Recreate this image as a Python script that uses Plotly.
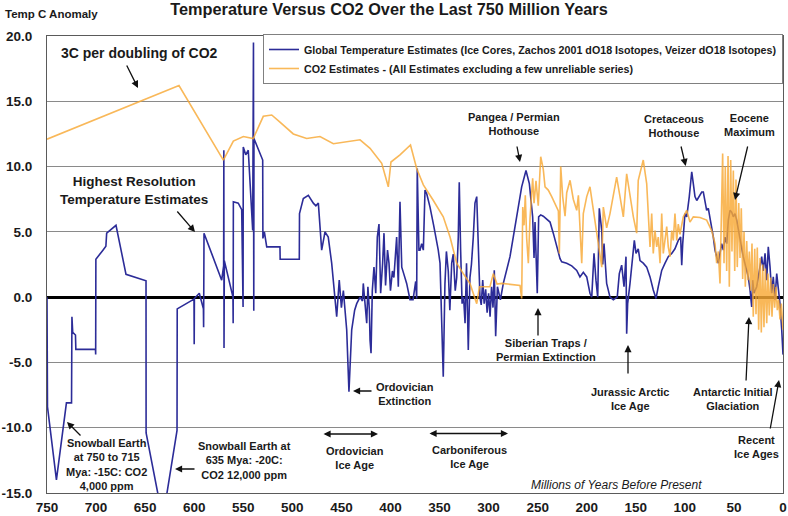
import plotly.graph_objects as go

# ---------------- data ----------------
TEMP_AGE = [
    750.0, 749.5, 740.4, 730.2, 725.0, 724.6, 723.8, 721.0, 720.6, 700.6,
    700.4, 700.2, 693.0, 690.0, 689.2, 679.7, 669.5, 656.0, 649.1, 649.0,
    632.0, 617.5, 617.3, 600.2, 600.0, 599.8, 594.8, 590.6, 590.4, 590.0,
    572.0, 570.0, 569.8, 569.6, 569.3, 560.5, 560.3, 560.1, 555.1, 551.6,
    550.2, 550.0, 547.5, 544.9, 543.8, 540.4, 539.6, 539.3, 539.1, 530.2,
    530.0, 528.5, 526.1, 512.6, 512.4, 492.9, 492.7, 488.8, 483.7, 478.6,
    476.0, 473.5, 470.1, 466.7, 463.4, 459.9, 456.5, 454.8, 452.2, 450.0,
    448.0, 444.6, 442.3, 439.5, 436.5, 434.4, 431.0, 428.5, 427.7, 426.0,
    424.2, 423.0, 421.5, 420.8, 419.8, 418.5, 416.8, 415.0, 413.4, 411.7,
    410.0, 408.0, 406.6, 405.0, 403.0, 401.5, 400.0, 398.0, 396.5, 393.7,
    392.0, 390.3, 388.5, 386.5, 383.5, 380.1, 377.0, 374.3, 373.3, 372.7,
    371.0, 369.9, 368.2, 366.5, 364.8, 363.0, 359.7, 356.0, 352.5, 351.3,
    349.5, 347.8, 346.2, 344.5, 343.0, 341.1, 339.5, 337.6, 336.0, 334.0,
    332.5, 330.9, 329.9, 328.5, 327.0, 325.5, 324.0, 322.5, 320.7, 319.0,
    317.5, 315.6, 313.9, 312.1, 310.5, 308.8, 307.5, 306.0, 304.5, 303.0,
    301.5, 300.0, 298.5, 297.0, 295.5, 294.2, 292.8, 291.0, 288.0, 285.0,
    278.2, 271.4, 266.3, 261.9, 258.5, 255.1, 253.7, 252.7, 251.7, 250.4,
    249.0, 246.9, 244.3, 240.8, 237.4, 234.1, 230.6, 227.2, 225.5, 220.4,
    215.3, 210.2, 206.9, 203.5, 200.0, 196.7, 194.9, 192.6, 190.6, 188.8,
    187.2, 184.7, 183.7, 182.4, 179.7, 176.3, 172.9, 168.9, 166.8, 164.4,
    162.0, 160.0, 159.3, 158.3, 155.9, 153.2, 151.5, 149.8, 147.5, 145.7,
    142.4, 138.9, 135.5, 132.2, 129.4, 127.1, 123.6, 120.2, 116.9, 113.4,
    110.1, 106.7, 104.3, 103.2, 102.2, 99.9, 98.1, 95.5, 93.0, 91.4,
    89.7, 87.9, 85.3, 82.8, 81.2, 79.5, 77.8, 76.1, 74.4, 72.7,
    71.0, 69.3, 67.6, 65.9, 64.2, 62.5, 60.8, 59.1, 57.4, 55.7,
    54.0, 52.3, 50.6, 48.9, 47.2, 45.5, 43.8, 40.5, 37.0, 35.4,
    33.6, 31.9, 30.9, 29.6, 26.8, 25.2, 23.4, 21.7, 20.1, 18.3,
    16.6, 15.0, 13.2, 11.5, 9.9, 8.2, 6.4, 4.8, 3.1, 1.3, 0.0,
]
TEMP_C = [
    0.0, -8.4, -14.0, -8.1, -8.1, -1.5, -2.7, -2.9, -4.0, -4.0,
    -4.4, 2.9, 3.6, 3.9, 4.9, 5.5, 1.75, 1.4, 1.25, -10.4,
    -17.0, -10.2, -0.9, -0.15, -3.6, -0.1, 0.3, -0.9, -2.3, 4.9,
    1.3, 2.4, 11.25, -3.9, 2.8, 0.0, -2.0, 7.3, 7.2, 6.7,
    -0.75, 11.5, 10.9, 11.25, 9.5, 5.1, 19.5, -1.05, 12.15, 10.5,
    4.5, 5.0, 3.85, 3.85, 2.9, 2.9, 6.4, 7.55, 7.8, 7.2,
    7.0, 7.2, 3.6, 5.0, 4.6, 2.6, 0.0, -1.5, 1.3, -0.8,
    0.5, -2.5, -7.25, -2.5, -1.0, -0.5, 0.0, -0.3, 1.05, -0.5,
    -2.0, 0.8, -1.0, -3.3, -4.3, 0.5, 2.3, 0.3, 4.6, 5.6,
    0.3, 2.6, 4.9, 0.9, 3.6, 2.6, 0.5, 2.0, 1.5, 4.6,
    0.8, 7.3, 2.3, 1.8, 1.05, -0.2, -0.2, 1.2, -0.1, 9.85,
    3.6, 3.6, 4.1, 3.6, 8.2, 7.9, 6.9, 5.5, 4.2, 3.6,
    2.6, -2.0, -6.1, 1.0, 3.5, 2.0, -1.0, 2.6, 3.3, 0.5,
    1.5, 4.6, 8.8, 3.6, -0.5, 0.0, -2.0, 2.6, -4.05, 1.5,
    2.5, 4.6, 7.2, 7.7, 4.0, 0.0, -0.6, 1.3, -0.5, 0.6,
    -1.2, 0.3, -1.5, 0.8, -0.8, 2.05, -3.0, 0.8, -0.2, 1.05,
    3.1, 6.15, 8.45, 9.7, 8.7, 6.15, 3.0, 5.75, 3.85, 0.3,
    6.15, 6.3, 6.2, 6.0, 5.75, 4.9, 3.85, 2.95, 2.7, 2.6,
    2.4, 2.05, 1.55, 1.9, 1.55, 0.3, 0.0, 3.35, 1.3, 0.0,
    6.8, 5.1, 2.5, 4.1, 1.05, 0.0, -0.2, 0.0, 1.8, 2.45,
    0.8, 3.1, -2.8, -0.5, 1.05, 3.1, 4.35, 3.35, 3.7, 2.8,
    2.6, 2.3, 1.55, 0.55, -0.1, 0.8, 2.05, 2.6, 3.1, 3.35,
    3.7, 4.35, 4.6, 2.45, 4.1, 6.4, 6.15, 7.7, 9.6, 8.7,
    7.7, 7.4, 7.7, 8.05, 8.05, 7.4, 6.65, 6.8, 6.15, 5.4,
    4.6, 3.6, 3.1, 2.6, 3.35, 4.1, 3.6, 4.6, 4.1, 5.9,
    6.65, 6.5, 6.15, 6.4, 5.9, 5.1, 4.6, 3.1, 2.05, 1.55,
    0.55, -0.75, 1.3, 0.3, 0.8, 1.55, 2.6, 3.1, 2.0, 3.35,
    1.3, 3.85, 2.3, 0.3, 1.55, -0.2, 1.8, 0.8, -0.5, -2.5, -4.4,
]

CO2_AGE = [
    750.0, 615.5, 570.3, 560.1, 549.9, 539.8, 529.6, 521.0, 512.6, 499.0,
    485.4, 471.8, 458.2, 444.6, 431.0, 420.8, 408.9, 402.2, 399.5, 390.3,
    379.6, 373.3, 366.5, 356.3, 346.2, 339.3, 332.5, 325.8, 319.0, 312.1,
    309.3, 298.6, 295.2, 291.4, 286.6, 268.0, 266.3, 265.2, 263.9, 262.6,
    261.2, 259.5, 257.8, 255.1, 253.7, 251.7, 249.4, 246.9, 244.3, 242.5,
    239.2, 235.7, 232.3, 228.9, 227.9, 226.5, 224.5, 222.1, 220.4, 217.0,
    213.7, 210.2, 208.5, 206.9, 205.1, 203.5, 200.0, 196.7, 193.3, 189.8,
    186.5, 184.7, 183.1, 179.7, 176.3, 172.9, 169.5, 166.1, 162.7, 159.3,
    155.9, 152.5, 149.1, 147.5, 142.4, 138.9, 135.5, 133.8, 132.2, 130.4,
    128.7, 127.1, 125.3, 123.6, 122.0, 118.5, 116.9, 115.1, 113.4, 111.8,
    110.1, 108.3, 106.7, 105.0, 101.6, 98.1, 94.8, 91.4, 84.6, 77.8,
    72.7, 69.3, 67.6, 65.9, 64.2, 62.5, 61.5, 60.1, 58.8, 57.4,
    56.0, 54.7, 53.3, 52.0, 50.6, 49.2, 47.9, 46.6, 45.1, 43.8,
    42.5, 41.1, 39.7, 38.4, 37.0, 35.7, 34.3, 32.9, 31.6, 30.3,
    28.8, 27.5, 26.2, 24.8, 23.4, 22.1, 20.7, 19.4, 18.0, 16.6,
    15.3, 14.0, 12.5, 11.2, 9.9, 8.5, 7.1, 5.8, 4.4, 3.1,
    1.7, 0.0,
]
CO2_VAL = [
    12.1, 16.2, 10.5, 11.95, 12.3, 12.15, 13.85, 13.95, 13.4, 12.5,
    12.15, 12.3, 11.75, 11.9, 12.05, 11.4, 10.25, 8.45, 10.35, 10.9,
    11.65, 9.85, 8.6, 7.4, 6.15, 4.6, 2.6, 1.8, 1.05, -0.5,
    0.8, 0.8, 1.8, 1.0, 1.05, 0.9, -0.1, 6.9, 5.5, 7.8,
    4.5, 2.6, 6.0, 9.1, 7.2, 8.9, 7.0, 10.75, 9.8, 8.45,
    8.2, 7.7, 7.2, 6.6, 3.35, 10.0, 7.7, 6.2, 8.0, 8.95,
    7.5, 6.65, 7.8, 4.8, 2.6, 6.4, 7.7, 8.45, 6.65, 5.1,
    3.1, 2.3, 6.9, 5.3, 6.4, 7.7, 9.2, 7.7, 6.15, 9.45,
    7.7, 6.15, 4.9, 8.95, 10.5, 8.7, 3.85, 6.4, 3.35, 5.1,
    3.85, 4.6, 2.6, 6.4, 3.35, 5.4, 3.85, 3.1, 5.1, 4.35,
    6.4, 4.35, 5.6, 4.8, 6.15, 6.65, 5.75, 6.15, 6.1, 5.9,
    5.1, 4.1, 2.6, 3.5, 1.05, 6.15, 11.0, 2.6, 10.0, 2.0,
    10.8, 0.8, 10.5, 3.5, 9.7, 2.0, 9.0, 2.3, 7.2, 3.0,
    6.8, 1.4, 5.0, 0.8, 4.3, 1.3, 3.5, 0.5, 4.1, -1.5,
    3.7, -1.3, 3.8, -2.5, 3.0, -2.7, 2.5, -2.3, 2.2, -2.0,
    1.8, -1.4, 1.5, -1.5, 1.0, -0.8, 0.8, -1.0, -0.2, -1.7,
    -0.5, -2.5,
]

X_TICKS = [750, 700, 650, 600, 550, 500, 450, 400, 350, 300, 250, 200, 150, 100, 50, 0]
X_TICK_LABELS = [str(v) for v in X_TICKS]
Y_TICKS = [-15, -10, -5, 0, 5, 10, 15, 20]
Y_TICK_LABELS = ["-15.0", "-10.0", "-5.0", "0.0", "5.0", "10.0", "15.0", "20.0"]

TITLE = "Temperature Versus CO2 Over the Last 750 Million Years"
Y_TITLE = "Temp C Anomaly"
X_TITLE = "Millions of Years Before Present"
NAME_TEMP = "Global Temperature Estimates (Ice Cores, Zachos 2001 dO18 Isotopes, Veizer dO18 Isotopes)"
NAME_CO2 = "CO2 Estimates - (All Estimates excluding a few unreliable series)"

# ---------------- layout geometry ----------------
W, H = 788, 516
PL, PR, PT, PB = 47, 783, 36, 493
X_MAX, X_MIN = 750, 0
Y_MIN, Y_MAX = -15, 20
FONT = "Liberation Sans, Arial, Helvetica, sans-serif"
INK = "#1a1a1a"


def paper(px, py):
    return (px - PL) / (PR - PL), (PB - py) / (PB - PT)


fig = go.Figure()
fig.add_trace(go.Scatter(x=TEMP_AGE, y=TEMP_C, mode="lines", name=NAME_TEMP,
                         line=dict(color="#2c2c98", width=1.6)))
fig.add_trace(go.Scatter(x=CO2_AGE, y=CO2_VAL, mode="lines", name=NAME_CO2,
                         line=dict(color="#f8a935", width=1.6), opacity=0.82))

annotations = []

# text labels (centre px, centre py, text, size)
TEXTS = [
    ("3C per doubling of CO2", 139, 53, 14),
    ("Highest Resolution<br>Temperature Estimates", 133.5, 190.5, 13.5),
    ("Pangea / Permian<br>Hothouse", 513.5, 124, 11),
    ("Cretaceous<br>Hothouse", 673.5, 125.5, 11),
    ("Eocene<br>Maximum", 749, 125, 11),
    ("Ordovician<br>Extinction", 404.5, 393.7, 11),
    ("Siberian Traps /<br>Permian Extinction", 545.8, 350, 11),
    ("Jurassic Arctic<br>Ice Age", 630, 399, 11),
    ("Antarctic Initial<br>Glaciation", 732, 399, 11),
    ("Recent<br>Ice Ages", 756, 447, 11),
    ("Ordovician<br>Ice Age", 354.7, 458, 11),
    ("Carboniferous<br>Ice Age", 469.7, 457, 11),
    ("Snowball Earth at<br>635 Mya: -20C:<br>CO2 12,000 ppm", 245, 460, 11),
    ("Snowball Earth<br>at 750 to 715<br>Mya: -15C: CO2<br>4,000 ppm", 106.3, 464, 11),
]
for txt, cx, cy, sz in TEXTS:
    x, y = paper(cx, cy)
    annotations.append(dict(text=txt, x=x, y=y, xref="paper", yref="paper",
                            xanchor="center", yanchor="middle", showarrow=False,
                            align="center",
                            font=dict(family=FONT, size=sz, color=INK, weight="bold")))

x, y = paper(616.7, 485)
annotations.append(dict(text=X_TITLE, x=x, y=y, xref="paper", yref="paper",
                        xanchor="center", yanchor="middle", showarrow=False,
                        font=dict(family=FONT, size=12, color=INK, style="italic")))

x, y = paper(3, 14)
annotations.append(dict(text=Y_TITLE, x=x, y=y, xref="paper", yref="paper",
                        xanchor="left", yanchor="middle", showarrow=False,
                        font=dict(family=FONT, size=11.5, color=INK, weight="bold")))

# arrows: (tail px, tail py, head px, head py, double)
ARROWS = [
    (126, 64, 138, 88, False),
    (176, 210, 195, 232, False),
    (516.7, 145, 520, 162, False),
    (680.7, 145, 685.7, 166, False),
    (748, 145, 735, 200, False),
    (373, 391, 353, 391, False),
    (538, 337, 538, 308, False),
    (628, 375, 628, 345, False),
    (746, 382, 749, 317, False),
    (770, 430, 779, 380, False),
    (82, 437, 67, 422, False),
    (196, 469, 175, 469, False),
    (322, 434, 378, 434, True),
    (428, 433.5, 508, 433.5, True),
]
for tx, ty, hx, hy, dbl in ARROWS:
    x, y = paper(hx, hy)
    annotations.append(dict(text="", x=x, y=y, xref="paper", yref="paper",
                            ax=tx - hx, ay=ty - hy, showarrow=True,
                            arrowhead=2, arrowsize=1.1, arrowwidth=1.3,
                            arrowcolor="#111111", standoff=0, startstandoff=0,
                            arrowside="end+start" if dbl else "end",
                            startarrowhead=2, startarrowsize=1.1))

fig.update_layout(
    width=W, height=H,
    margin=dict(l=PL, r=W - PR, t=PT, b=H - PB, pad=0, autoexpand=False),
    paper_bgcolor="white", plot_bgcolor="white",
    title=dict(text=TITLE, x=389 / W, xref="container", xanchor="center",
               y=1 - 9 / H, yref="container", yanchor="middle", automargin=False,
               font=dict(family=FONT, size=16.3, color=INK, weight="bold")),
    xaxis=dict(range=[X_MAX, X_MIN], tickvals=X_TICKS, ticktext=X_TICK_LABELS,
               showgrid=False, zeroline=False, showline=True, mirror=True,
               linecolor="#5a5a5a", linewidth=1, ticks="", ticklabelstandoff=2,
               automargin=False,
               tickfont=dict(family=FONT, size=13.5, color=INK, weight="bold")),
    xaxis2=dict(overlaying="x", anchor="free", side="bottom",
                position=(0 - Y_MIN) / (Y_MAX - Y_MIN), automargin=False,
                range=[X_MAX, X_MIN], tickvals=X_TICKS, ticks="outside",
                ticklen=4, tickwidth=1.5, tickcolor="black",
                showticklabels=False, showline=False, showgrid=False, zeroline=False),
    yaxis=dict(range=[Y_MIN, Y_MAX], tickvals=Y_TICKS, ticktext=Y_TICK_LABELS,
               showgrid=True, gridcolor="#8a8a8a", gridwidth=1,
               zeroline=True, zerolinecolor="black", zerolinewidth=2.6,
               showline=True, mirror=True, linecolor="#5a5a5a", linewidth=1,
               ticks="", ticklabelstandoff=11, automargin=False,
               tickfont=dict(family=FONT, size=13.5, color=INK, weight="bold")),
    legend=dict(x=1, xanchor="right", y=(PB - 34) / (PB - PT), yanchor="top",
                bgcolor="white", bordercolor="#808080", borderwidth=1,
                font=dict(family=FONT, size=10.7, color=INK, weight="bold"),
                itemwidth=30, tracegroupgap=0),
    annotations=annotations,
    showlegend=True,
)

fig.write_html("out.html")
